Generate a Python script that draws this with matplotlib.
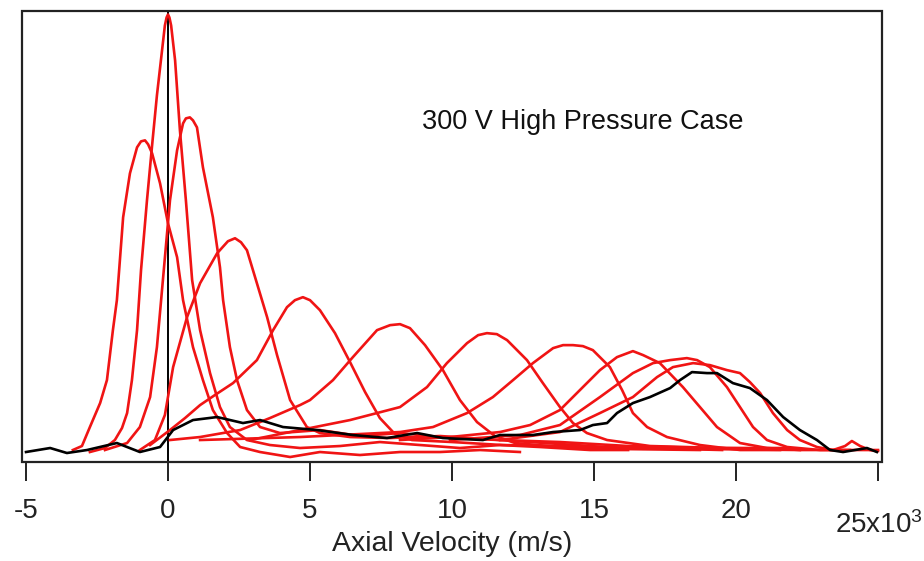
import numpy as np
import matplotlib
matplotlib.use('Agg')
import matplotlib.pyplot as plt
from matplotlib.patches import Rectangle

plt.rcParams['font.family'] = ['Liberation Sans', 'DejaVu Sans']
plt.rcParams['mathtext.default'] = 'regular'

# axial velocity in units of 10^3 m/s, signal in arbitrary units
a_x = [-3.35, -3.03, -2.75, -2.39, -2.15, -1.94, -1.80, -1.58, -1.34, -1.09, -0.95, -0.81, -0.70, -0.56,
       -0.28, 0.00, 0.32, 0.53, 0.88, 1.23, 1.58, 2.08, 2.54, 3.24, 4.30, 5.35, 6.76, 8.17, 9.58,
       10.99, 12.39]
a_y = [2, 6, 25, 49, 72, 122, 152, 235, 279, 305, 311, 312, 308, 299,
       269, 229, 195, 152, 105, 72, 42, 19, 5, 0, -5, 0, -3, 0, 0,
       2, 0]

b_x = [-2.75, -2.22, -1.87, -1.62, -1.44, -1.27, -1.09, -0.95, -0.74, -0.56, -0.39, -0.21, -0.11, -0.05,
       0.00, 0.05, 0.11, 0.25, 0.42, 0.63, 0.85, 1.13, 1.48, 1.83, 2.18, 2.78, 3.59, 4.65, 6.06, 7.46,
       8.87, 10.28, 11.69, 13.10, 14.86, 16.20]
b_y = [0, 4, 12, 24, 39, 72, 122, 182, 252, 307, 357, 402, 427, 435,
       438, 435, 427, 392, 322, 252, 172, 122, 79, 45, 25, 12, 7, 4, 6, 10,
       7, 4, 7, 5, 2, 2]

c_x = [-2.22, -1.44, -0.99, -0.63, -0.39, -0.18, 0.07, 0.32, 0.53, 0.63, 0.77, 0.88, 1.02, 1.23, 1.58,
       1.83, 1.94, 2.18, 2.43, 2.78, 3.24, 3.94, 5.35, 6.76, 8.17, 9.93, 11.69, 13.80, 15.92, 18.73,
       22.25, 25.00]
c_y = [2, 9, 25, 55, 105, 172, 252, 302, 329, 334, 335, 332, 325, 285, 235,
       185, 152, 105, 72, 42, 25, 19, 22, 16, 19, 14, 12, 8, 4, 3,
       2, 2]

d_x = [-0.99, -0.46, -0.11, 0.18, 0.67, 1.13, 1.73, 2.11, 2.36, 2.57, 2.78, 3.13, 3.49, 3.84, 4.30,
       4.89, 5.35, 6.41, 7.82, 9.58, 11.69, 13.80, 16.20, 19.01, 21.83]
d_y = [2, 12, 37, 85, 135, 169, 199, 211, 214, 210, 202, 169, 135, 97, 52,
       25, 19, 15, 14, 16, 12, 10, 6, 4, 4]

e_x = [-0.63, 0.07, 0.60, 1.13, 1.65, 2.29, 3.13, 3.70, 4.19, 4.47, 4.75, 5.00, 5.35, 5.88, 6.41,
       6.94, 7.46, 7.99, 8.59, 10.00, 11.76, 13.87, 16.69, 19.51]
e_y = [7, 22, 34, 47, 57, 69, 92, 122, 145, 152, 155, 152, 142, 119, 90,
       60, 34, 18, 12, 10, 7, 6, 4, 2]

f_x = [0.07, 1.13, 2.54, 3.59, 4.65, 5.00, 5.81, 6.51, 7.36, 7.82, 8.17, 8.52, 9.05, 9.68, 10.28,
       10.88, 11.51, 12.22, 13.80, 15.92, 18.73]
f_y = [12, 15, 22, 34, 47, 52, 72, 95, 122, 127, 128, 124, 107, 82, 52,
       30, 16, 9, 5, 3, 2]

g_x = [2.89, 4.65, 6.41, 8.17, 9.12, 9.82, 10.53, 10.92, 11.23, 11.58, 11.94, 12.64, 13.20, 13.80,
       14.26, 14.75, 15.46, 16.97, 19.44, 22.25]
g_y = [12, 22, 32, 45, 65, 89, 109, 117, 119, 118, 112, 92, 69, 45,
       29, 19, 12, 6, 4, 3]

h_x = [1.13, 4.65, 8.17, 9.33, 10.53, 11.44, 12.15, 12.85, 13.56, 13.91, 14.26, 14.61, 14.96, 15.56,
       15.99, 16.37, 16.87, 17.57, 18.73, 20.14, 21.55]
h_y = [12, 15, 20, 25, 39, 55, 72, 89, 104, 107, 107, 106, 102, 85,
       62, 39, 25, 15, 7, 2, 2]

i_x = [8.17, 9.93, 11.69, 12.75, 13.80, 14.68, 15.21, 15.81, 16.37, 16.73, 17.32, 18.13, 18.73, 19.33,
       20.14, 21.09, 22.25]
i_y = [12, 15, 20, 27, 42, 67, 82, 95, 101, 97, 89, 65, 45, 25,
       9, 4, 2]

j_x = [9.93, 12.39, 13.80, 15.21, 16.37, 17.08, 17.68, 18.27, 18.63, 19.08, 19.68, 20.14, 20.60, 21.09,
       21.80, 22.96, 24.01]
j_y = [12, 17, 27, 55, 79, 89, 92, 94, 92, 85, 65, 45, 25, 12,
       5, 2, 2]

k_x = [11.69, 13.80, 15.21, 16.37, 17.22, 17.78, 18.49, 19.08, 19.68, 20.14, 20.49, 20.85, 21.30, 21.80,
       22.25, 22.85, 23.42, 23.84, 24.08, 24.37, 24.72, 25.00]
k_y = [12, 20, 39, 55, 75, 85, 89, 87, 82, 79, 70, 59, 39, 22,
       12, 5, 2, 6, 11, 6, 2, 1]

# reference (black) profile
ref_x = [-5.00, -4.15, -3.56, -2.85, -1.80, -0.99, -0.28, 0.18, 0.88, 1.73, 2.64, 3.24, 4.05, 5.25,
         6.51, 7.71, 8.77, 9.68, 11.09, 11.69, 12.85, 13.56, 14.51, 14.96, 15.46, 15.81, 16.37, 16.97,
         17.68, 18.03, 18.45, 18.98, 19.33, 19.89, 20.49, 21.09, 21.66, 22.25, 22.85, 23.31, 23.77,
         24.61, 24.96]
ref_y = [0, 4, -1, 2, 9, 0, 5, 22, 32, 35, 29, 32, 25, 22,
         17, 14, 19, 14, 12, 17, 17, 20, 22, 27, 29, 39, 49, 55,
         64, 72, 80, 79, 79, 69, 64, 52, 35, 22, 12, 2, 0,
         4, 0]

red_curves = [(a_x, a_y), (b_x, b_y), (c_x, c_y), (d_x, d_y), (e_x, e_y), (f_x, f_y),
              (g_x, g_y), (h_x, h_y), (i_x, i_y), (j_x, j_y), (k_x, k_y)]
tick_vals = [-5, 0, 5, 10, 15, 20, 25]
tick_labels = ['-5', '0', '5', '10', '15', '20', '']

fig = plt.figure(figsize=(9.24, 5.61), dpi=100)
ax = fig.add_axes([22 / 924, 1 - 462 / 561, 860 / 924, 451 / 561])

for xs, ys in red_curves:
    ax.plot(xs, ys, color='#f01414', lw=1.9, zorder=2, solid_joinstyle='round')
ax.plot(ref_x, ref_y, color='black', lw=1.9, zorder=3, solid_joinstyle='round')
ax.axvline(0, color='black', lw=1.4, zorder=1.5)

ax.set_xlim(-5 - 4 / 28.4, 25 + 4 / 28.4)
ax.set_ylim(-10, 441.5)
for s in ax.spines.values():
    s.set_visible(False)
ax.add_patch(Rectangle((0, 0), 1, 1, transform=ax.transAxes, fill=False,
                       ec='#222222', lw=1.6, clip_on=False, zorder=5))

ax.set_yticks([])
ax.set_xticks(tick_vals)
ax.set_xticklabels(tick_labels)
ax.tick_params(axis='x', direction='out', length=14, width=1.4, pad=12,
               labelsize=20, colors='#222222', labelcolor='#222222')
ax.annotate('25x10$^3$', xy=(25, 0), xycoords=('data', 'axes fraction'),
            xytext=(32, -51), textcoords='offset points',
            ha='right', va='baseline', fontsize=20, color='#222222')
ax.set_xlabel('Axial Velocity (m/s)', fontsize=20.5, labelpad=5, color='#222222')

fig.text(422 / 924, 1 - 122 / 561, '300 V High Pressure Case', fontsize=19.5,
         ha='left', va='center', color='#111111')

fig.savefig('out.png', dpi=100)
